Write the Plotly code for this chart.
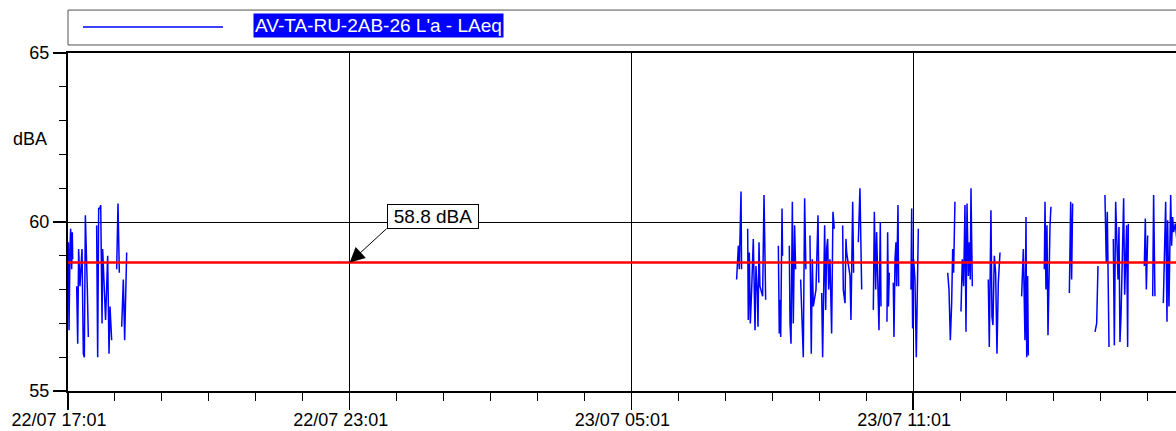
import plotly.graph_objects as go
import pandas as pd

# ---------------- data ----------------
start_time = "2021-07-22 17:01"
end_time = "2021-07-23 16:37"
callout_time = "2021-07-22 23:01"
series_name = "AV-TA-RU-2AB-26 L'a - LAeq"
overall_leq = 58.8
overall_label = "58.8 dBA"
y_unit = "dBA"
y_tickvals = [55, 60, 65]

# minutes after 22/07 17:01 and LAeq values (None = no data)
minutes = [
    0.4, 1.3, 2.6, 3.4, 4.7, 5.5, 6.0, None,
    11.1, 12.4, 13.6, 15.3, 17.9, 19.6, 20.9, 22.2, 24.7, 26.0, None,
    36.6, 37.9, 39.2, 40.5, 41.8, 42.6, 43.5, 44.3, 45.6, 46.4, 48.0, 50.7, 52.4, 53.7, 55.8, None,
    62.2, 63.9, 65.6, None,
    68.6, 69.9, 70.7, 72.4, 75.0, None,
    854.5, 856.7, 857.9, 860.1, 860.8, None,
    868.6, 869.4, 870.7, 872.0, 873.7, 875.8, 878.0, 879.2, 880.9, 881.8, 883.1, 884.3, 887.7, 889.5, 891.6, None,
    907.8, 909.0, 909.9, 910.8, 912.5, 913.2, None,
    921.8, 922.7, 924.0, 925.7, 926.9, 928.6, 929.9, None,
    936.3, 938.0, 939.7, 941.4, 943.0, None,
    948.2, 949.9, 951.2, 952.5, 955.9, 958.5, 959.5, None,
    963.2, 964.4, 967.0, 968.3, 969.5, 970.8, 972.1, 973.8, 975.9, 977.6, 979.3, None,
    990.0, 990.8, 993.0, 994.2, 995.1, 999.4, 1000.6, 1002.8, 1004.0, None,
    1010.0, 1012.1, 1014.3, None,
    1029.2, 1030.5, 1032.2, 1033.4, 1036.4, 1038.1, 1039.0, None,
    1046.6, 1047.5, 1048.5, 1049.6, None,
    1054.7, 1055.6, 1056.9, 1058.1, 1059.0, 1060.7, 1061.5, None,
    1077.3, 1078.2, 1079.4, 1080.7, 1082.4, 1084.1, 1086.7, None,
    1124.2, 1125.9, 1127.6, 1129.3, 1130.6, 1131.8, 1133.5, None,
    1141.2, 1142.9, 1144.6, 1146.3, 1147.6, 1148.9, 1150.6, 1151.9, 1153.1, 1154.0, 1155.7, None,
    1176.1, 1177.4, 1179.5, 1180.8, 1182.1, 1183.8, 1185.5, 1187.2, 1188.9, 1191.1, None,
    1218.7, 1220.9, 1223.0, 1224.3, 1225.2, 1226.4, 1227.3, None,
    1247.7, 1248.6, 1249.8, 1251.1, 1252.4, 1253.7, 1255.0, 1256.2, None,
    1279.7, 1280.5, 1281.4, 1282.6, 1283.9, None,
    1312.5, 1314.6, 1316.3, None,
    1325.2, 1326.9, 1328.2, 1330.4, None,
    1335.9, 1337.2, 1338.9, 1340.6, 1341.9, 1343.1, 1344.4, 1345.7, 1349.1, 1350.4, 1351.7, 1352.9, 1354.2, 1355.1, None,
    1375.5, 1376.8, 1378.1, 1379.8, None,
    1386.2, 1387.4, 1389.1, None,
    1399.8, 1401.1, 1402.8, 1404.5, 1405.3, 1407.0, 1409.2, 1410.4, 1411.7, 1413.0, 1415.1, 1417.0,
]
laeq = [
    59.4, 56.8, 59.3, 59.8, 58.6, 59.7, 58.9, None,
    58.1, 56.4, 59.2, 58.1, 59.2, 56.1, 56.0, 60.2, 58.0, 56.6, None,
    59.9, 56.0, 60.4, 60.4, 60.5, 57.8, 57.0, 59.2, 58.5, 57.6, 57.1, 59.0, 56.1, 57.5, 56.5, None,
    58.6, 60.55, 58.5, None,
    56.9, 57.8, 58.3, 56.5, 59.1, None,
    58.3, 59.3, 58.6, 60.9, 58.6, None,
    59.8, 57.1, 59.1, 57.0, 58.0, 59.5, 56.8, 58.7, 57.9, 56.9, 59.4, 58.1, 57.8, 60.8, 57.7, None,
    59.3, 56.7, 57.7, 56.6, 60.4, 59.0, None,
    59.3, 57.0, 56.4, 60.6, 57.0, 59.9, 58.6, None,
    58.3, 56.7, 56.0, 60.7, 58.6, None,
    59.6, 56.1, 58.9, 57.5, 58.0, 60.2, 58.2, None,
    57.9, 56.0, 59.9, 57.4, 59.2, 59.5, 58.0, 58.9, 56.7, 60.3, 59.8, None,
    59.9, 58.0, 57.6, 59.5, 59.1, 58.4, 57.1, 60.6, 58.5, None,
    59.4, 61.0, 58.0, None,
    57.4, 60.3, 58.0, 59.7, 56.8, 60.0, 57.5, None,
    57.05, 59.7, 57.5, 58.5, None,
    58.2, 56.6, 58.9, 59.4, 58.1, 60.5, 58.1, None,
    58.0, 60.4, 56.85, 58.9, 58.3, 56.0, 59.8, None,
    58.5, 58.0, 56.5, 57.6, 59.2, 58.5, 60.6, None,
    57.35, 58.9, 58.1, 60.5, 56.75, 60.55, 58.4, 59.4, 58.3, 61.0, 58.1, None,
    58.3, 56.3, 60.35, 57.2, 56.95, 59.0, 58.5, 56.1, 58.2, 59.1, None,
    57.8, 59.2, 56.5, 60.15, 56.0, 58.4, 56.05, None,
    58.6, 60.6, 58.0, 59.9, 56.65, 58.9, 59.9, 60.45, None,
    57.9, 59.0, 60.6, 58.3, 60.55, None,
    56.75, 57.0, 58.7, None,
    60.8, 58.8, 60.3, 56.3, None,
    59.5, 56.35, 60.6, 59.55, 58.3, 59.85, 56.45, 57.2, 60.7, 57.85, 58.8, 59.9, 56.3, 59.95, None,
    58.7, 60.1, 58.0, 59.6, None,
    57.8, 60.8, 57.8, None,
    57.6, 59.2, 60.6, 57.05, 60.05, 57.5, 60.8, 59.3, 60.15, 59.7, 59.95, 59.5,
]

# ---------------- build ----------------
t0 = pd.Timestamp(start_time)
t_end = pd.Timestamp(end_time)
x_times = [t0 + pd.Timedelta(minutes=m) if m is not None else None for m in minutes]

FONT = "Liberation Sans, Arial, sans-serif"

fig = go.Figure()
fig.add_trace(go.Scatter(
    x=x_times, y=laeq, mode="lines", connectgaps=False,
    line=dict(color="#0000ff", width=1.5), name=series_name, hoverinfo="skip",
))
fig.add_trace(go.Scatter(
    x=[t0, t_end], y=[overall_leq, overall_leq], mode="lines",
    line=dict(color="#ff0000", width=2.6), hoverinfo="skip", name="Leq",
))

fig.update_layout(
    width=1176, height=431,
    margin=dict(l=68, r=0, t=53, b=40, autoexpand=False),
    paper_bgcolor="white", plot_bgcolor="white",
    font=dict(family=FONT, size=18, color="black"),
    showlegend=False,
)

fig.update_xaxes(
    type="date", range=[t0, t_end], automargin=False,
    tick0=t0, dtick=6 * 3600 * 1000, tickformat="%d/%m %H:%M",
    ticks="outside", ticklen=17, tickwidth=1.2, tickcolor="black",
    ticklabelshift=-9, ticklabelstandoff=-6,
    showline=True, linecolor="black", linewidth=2, mirror=True,
    showgrid=True, gridcolor="black", gridwidth=1, zeroline=False,
    minor=dict(tick0=t0, dtick=3600 * 1000, ticks="outside", ticklen=8,
               tickcolor="black", tickwidth=1, showgrid=False),
    tickfont=dict(family=FONT, size=18, color="black"),
)
fig.update_yaxes(
    range=[55, 65], tickvals=y_tickvals, automargin=False,
    ticks="outside", ticklen=13, tickwidth=1.2, tickcolor="black",
    showline=True, linecolor="black", linewidth=2,
    showgrid=True, gridcolor="black", gridwidth=1, zeroline=False,
    minor=dict(tick0=55, dtick=1, ticks="outside", ticklen=7,
               tickcolor="black", tickwidth=1, showgrid=False),
    tickfont=dict(family=FONT, size=18, color="black"),
)

# unit label
fig.add_annotation(
    x=0, xref="paper", y=62.45, yref="y", text=y_unit, showarrow=False,
    xanchor="right", yanchor="middle", xshift=-19,
    font=dict(family=FONT, size=18, color="black"),
)

# overall Leq callout
fig.add_annotation(
    x=pd.Timestamp(callout_time), y=overall_leq, xref="x", yref="y",
    text=overall_label, showarrow=True, ax=37, ay=-34,
    xanchor="left", yanchor="bottom",
    arrowhead=2, arrowsize=3, arrowwidth=1, arrowcolor="black",
    bgcolor="white", bordercolor="black", borderwidth=1, borderpad=1,
    width=88,
    font=dict(family=FONT, size=19, color="black"),
)

# legend box (drawn manually)
fig.add_shape(type="rect", xref="paper", yref="paper",
              x0=0, x1=1.02, y0=1.0237, y1=1.127,
              line=dict(color="#505050", width=1), fillcolor="white", layer="above")
fig.add_shape(type="line", xref="paper", yref="paper",
              x0=0.0135, x1=0.1399, y0=1.0769, y1=1.0769,
              line=dict(color="#0000ff", width=1.5), layer="above")
fig.add_annotation(
    x=0.167, xref="paper", y=1.0828, yref="paper", text=series_name,
    showarrow=False, xanchor="left", yanchor="middle",
    bgcolor="#0000ff", borderpad=1,
    font=dict(family=FONT, size=19, color="white"),
)

fig.write_html(
    "out.html",
    config={"displayModeBar": False, "staticPlot": True},
    post_script="document.body.style.margin='0';document.body.style.overflow='hidden';",
)
